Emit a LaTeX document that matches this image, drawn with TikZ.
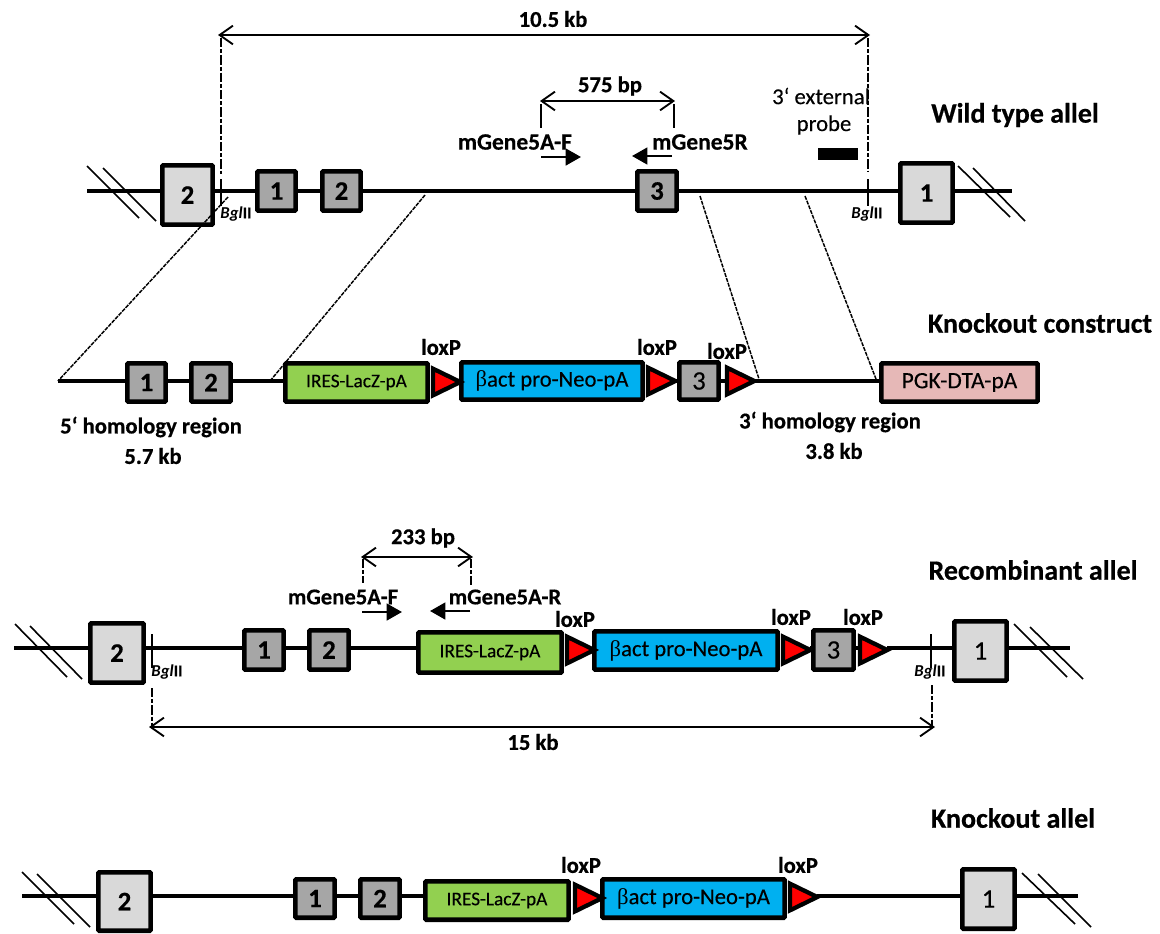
\documentclass[tikz,border=0pt]{standalone}
\usepackage{fontspec}
\setmainfont[BoldFeatures={FakeBold=0.5}]{Carlito}
\newfontfamily\serifgr{Liberation Serif}
\newfontfamily\medf[FakeBold=0.25]{Carlito}
\usetikzlibrary{shapes.geometric,arrows.meta}
\tikzset{
  dna/.style={line width=3pt,black},
  slashl/.style={line width=1.2pt,black},
  exonbox/.style={draw=black,line width=3.5pt,inner sep=0pt,outer sep=0pt,rounded corners=0.8pt,font=\bfseries\fontsize{20}{22}\selectfont},
  big/.style={exonbox,fill=black!15},
  bigp/.style={big,font=\medf\fontsize{20}{22}\selectfont},
  small/.style={exonbox,fill=black!35},
  smallp/.style={small,font=\medf\fontsize{20}{22}\selectfont},
  ires/.style={exonbox,fill=ires,font=\medf\fontsize{14.5}{16}\selectfont},
  neo/.style={exonbox,fill=neob,font=\medf\fontsize{17}{19}\selectfont},
  pgk/.style={exonbox,fill=pgkc,font=\medf\fontsize{17.5}{19}\selectfont},
  lab/.style={inner sep=0pt,font=\bfseries\fontsize{17}{19}\selectfont},
  prim/.style={inner sep=0pt,font=\bfseries\fontsize{17.6}{19}\selectfont},
  title/.style={inner sep=0pt,font=\bfseries\fontsize{21}{23}\selectfont},
  plain/.style={inner sep=0pt,font=\medf\fontsize{17}{19}\selectfont},
  bgl/.style={inner sep=0pt,font=\bfseries\fontsize{12.5}{14}\selectfont},
  tick/.style={line width=1.6pt},
  guide/.style={line width=1.3pt,dash pattern=on 7pt off 1.5pt on 3pt off 1.5pt},
  homol/.style={line width=1.1pt,dash pattern=on 3pt off 0.8pt},
  dim/.style={line width=1.8pt,{Straight Barb[length=10pt,width=14pt,line width=1.4pt]}-{Straight Barb[length=10pt,width=14pt,line width=1.4pt]}},
  primer/.style={line width=1.9pt,-{Triangle[length=11.5pt,width=12.5pt]}},
  lox/.style={isosceles triangle,isosceles triangle stretches,shape border rotate=0,draw=black,fill=red,line width=3.2pt,inner sep=0pt,outer sep=0pt,anchor=lower side,minimum width=20pt,minimum height=20.5pt}
}
\definecolor{ires}{HTML}{92D050}
\definecolor{neob}{HTML}{00B0F0}
\definecolor{pgkc}{HTML}{E6B8B7}
% name, x1, y1, x2, y2, style, text
\newcommand\bx[7]{\node[#6,minimum width={(#4-#2-4.7)*0.75},minimum height={(#5-#3-4.7)*0.75}] (#1) at ({(#2+#4)/2},{(#3+#5)/2}) {#7};}
% segment of the DNA line from node to node at height y
\newcommand\seg[3]{\draw[dna] (#1.east |- 0,#3) -- (#2.west |- 0,#3);}
\newcommand\bact{{\serifgr β}act pro-Neo-pA}
\newcommand\bglii{\textit{Bgl}II}
\newcommand\breakmark[4]{\draw[slashl] #1 -- #2; \draw[slashl] #3 -- #4;}
\begin{document}
\begin{tikzpicture}[x=0.75pt,y=-0.75pt]
\useasboundingbox (0,0) rectangle (1160,933);
\fill[white] (0,0) rectangle (1160,933);

%% ---------- Wild type
\coordinate (aS) at (87,191); \coordinate (aE) at (1012,191);
\bx{aB2}{160}{163}{215}{227}{big}{2}
\bx{aE1}{255}{169}{298}{213}{small}{1}
\bx{aE2}{320}{169}{363}{213}{small}{2}
\bx{aE3}{635}{169}{679}{213}{small}{3}
\bx{aB1}{898}{161}{955}{225}{big}{1}
\draw[dna] (aS) -- (aB2.west |- aS);
\seg{aB2}{aE1}{191} \seg{aE1}{aE2}{191} \seg{aE2}{aE3}{191} \seg{aE3}{aB1}{191}
\draw[dna] (aB1.east |- aE) -- (aE);
\breakmark{(87,166)}{(139,218)}{(103,168)}{(156,221)}
\breakmark{(958,166)}{(1010,217)}{(973,168)}{(1025,221)}
\draw[tick] (221,179) coordinate (aT1) -- (221,206);
\draw[tick] (868,179) coordinate (aT2) -- (868,206);
\node[bgl] (aBg1) at (236,214) {\bglii};
\node[bgl] (aBg2) at (867,214) {\bglii};
\coordinate (aD1) at (218,35); \coordinate (aD2) at (870,35);
\draw[dim] (aD1) -- (aD2);
\draw[guide] (aT1 |- 0,38) -- (aT1 |- 0,174);
\draw[guide] (aT2 |- 0,38) -- (aT2 |- 0,172);
\node[lab] (aL105) at (553,19) {10.5 kb};
\coordinate (aP1) at (540,101); \coordinate (aP2) at (675,101);
\draw[dim] (aP1) -- (aP2);
\draw[guide,dash pattern=on 18pt off 1pt] (541,104) -- (541,128);
\draw[guide,dash pattern=on 18pt off 1pt] (674,104) -- (674,128);
\node[lab] (a575) at (610,86) {575 bp};
\node[prim] (aF) at (515,142) {mGene5A-F};
\node[prim] (aR) at (700,142) {mGene5R};
\coordinate (aF1) at (541,157); \coordinate (aF2) at (581,157);
\draw[primer] (aF1) -- (aF2);
\coordinate (aR1) at (672,156); \coordinate (aR2) at (632,156);
\draw[primer] (aR1) -- (aR2);
\node[plain] (aP3a) at (821,96) {3‘ external};
\node[plain] (aP3b) at (824,125) {probe};
\node[fill=black,inner sep=0pt,minimum width=30pt,minimum height=8.5pt] (aProbe) at (838,154) {};
\node[title] (aT) at (1015,115) {Wild type allel};

%% ---------- Knockout construct
\coordinate (bS) at (58,381);
\bx{bE1}{125}{361}{168}{404}{small}{1}
\bx{bE2}{189}{361}{233}{404}{small}{2}
\bx{bI}{283}{361}{430}{404}{ires}{IRES-LacZ-pA}
\bx{bN}{459}{360}{645}{402}{neo}{\bact}
\bx{bE3}{677}{360}{721}{402}{smallp}{3}
\bx{bP}{879}{361}{1040}{404}{pgk}{PGK-DTA-pA}
\node[lox] (bL1) at (433,382) {};
\node[lox] (bL2) at (648,381) {};
\node[lox] (bL3) at (727,381) {};
\draw[dna] (bS) -- (bE1.west |- bS);
\seg{bE1}{bE2}{381} \seg{bE2}{bI}{381}
\draw[dna] (bE3.east |- bS) -- (bL3.lower side);
\draw[dna] (bL2.apex) -- (bE3.west |- bS);
\draw[dna] (bL3.apex) -- (bP.west |- bS);
\node[lab] (bx1) at (441,347) {loxP};
\node[lab] (bx2) at (657,347) {loxP};
\node[lab] (bx3) at (727,351) {loxP};
\node[lab] (b5a) at (151,427) {5‘ homology region};
\node[lab] (b5b) at (153,456) {5.7 kb};
\node[lab] (b3a) at (830,422) {3‘ homology region};
\node[lab] (b3b) at (834,451) {3.8 kb};
\node[title] (bT) at (1040,323) {Knockout construct};
\draw[homol] (228,197) -- (bS);
\draw[homol] (425,195) -- (270,381);
\draw[homol] (700,196) -- (759,379);
\draw[homol] (805,196) -- (876,379);

%% ---------- Recombinant
\coordinate (cS) at (14,648); \coordinate (cE) at (1070,648);
\bx{cB2}{88}{621}{146}{685}{big}{2}
\bx{cE1}{242}{628}{286}{672}{small}{1}
\bx{cE2}{307}{628}{351}{672}{small}{2}
\bx{cI}{416}{630}{564}{675}{ires}{IRES-LacZ-pA}
\bx{cN}{592}{629}{780}{672}{neo}{\bact}
\bx{cE3}{811}{628}{856}{672}{smallp}{3}
\bx{cB1}{952}{619}{1009}{683}{bigp}{1}
\node[lox] (cL1) at (567,650) {};
\node[lox] (cL2) at (783,650) {};
\node[lox] (cL3) at (860,650) {};
\draw[dna] (cS) -- (cB2.west |- cS);
\seg{cB2}{cE1}{648} \seg{cE1}{cE2}{648} \seg{cE2}{cI}{648}
\draw[dna] (cL2.apex |- cS) -- (cE3.west |- cS);
\draw[dna] (cE3.east |- cS) -- (cL3.lower side |- cS);
\draw[dna] (cL3.apex |- cS) -- (cB1.west |- cS);
\draw[dna] (cB1.east |- cE) -- (cE);
\breakmark{(15,624)}{(67,677)}{(30,626)}{(82,679)}
\breakmark{(1014,624)}{(1067,677)}{(1030,627)}{(1083,679)}
\draw[tick] (152,634) coordinate (cT1) -- (152,668);
\draw[tick] (931,634) coordinate (cT2) -- (931,668);
\node[bgl] (cBg1) at (167,672) {\bglii};
\node[bgl] (cBg2) at (930,672) {\bglii};
\coordinate (cD1) at (149,727); \coordinate (cD2) at (935,727);
\draw[dim] (cD1) -- (cD2);
\draw[guide] (152,688) -- (152,727);
\draw[guide] (932,685) -- (932,727);
\node[lab] (c15) at (533,742) {15 kb};
\coordinate (cP1) at (361,557); \coordinate (cP2) at (473,557);
\draw[dim] (cP1) -- (cP2);
\draw[guide] (363,559) -- (363,583);
\draw[guide] (471,559) -- (471,585);
\node[lab] (c233) at (423,538) {233 bp};
\node[lab] (cF) at (343,597) {mGene5A-F};
\node[lab] (cR) at (505,597) {mGene5A-R};
\coordinate (cF1) at (362,612); \coordinate (cF2) at (402,612);
\draw[primer] (cF1) -- (cF2);
\coordinate (cR1) at (470,611); \coordinate (cR2) at (430,611);
\draw[primer] (cR1) -- (cR2);
\node[lab] (cx1) at (575,619) {loxP};
\node[lab] (cx2) at (791,617) {loxP};
\node[lab] (cx3) at (863,617) {loxP};
\node[title] (cT) at (1033,570) {Recombinant allel};

%% ---------- Knockout allele
\coordinate (dS) at (22,896); \coordinate (dE) at (1078,896);
\bx{dB2}{96}{870}{153}{933}{big}{2}
\bx{dE1}{293}{877}{337}{920}{small}{1}
\bx{dE2}{358}{877}{402}{920}{small}{2}
\bx{dI}{423}{879}{571}{922}{ires}{IRES-LacZ-pA}
\bx{dN}{600}{877}{787}{920}{neo}{\bact}
\bx{dB1}{960}{867}{1017}{931}{bigp}{1}
\node[lox] (dL1) at (575,898) {};
\node[lox] (dL2) at (790,897) {};
\draw[dna] (dS) -- (dB2.west |- dS);
\seg{dB2}{dE1}{896} \seg{dE1}{dE2}{896} \seg{dE2}{dI}{896}
\draw[dna] (dL2.apex |- dS) -- (dB1.west |- dS);
\draw[dna] (dB1.east |- dE) -- (dE);
\breakmark{(22,872)}{(74,924)}{(37,874)}{(90,927)}
\breakmark{(1022,873)}{(1075,924)}{(1038,874)}{(1091,927)}
\node[lab] (dx1) at (581,865) {loxP};
\node[lab] (dx2) at (798,865) {loxP};
\node[title] (dT) at (1013,818) {Knockout allel};
\end{tikzpicture}
\end{document}
